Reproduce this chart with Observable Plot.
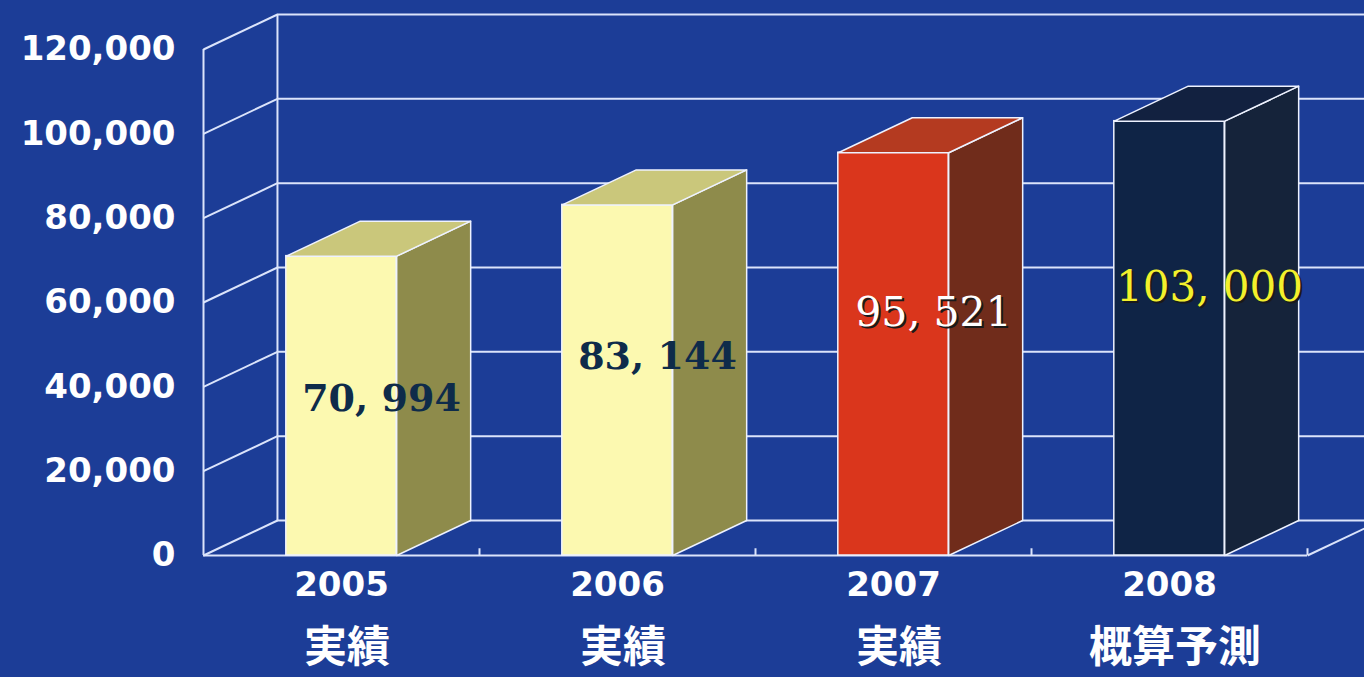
<!DOCTYPE html>
<html><head><meta charset="utf-8">
<script src="https://cdn.jsdelivr.net/npm/d3@7"></script>
<script src="https://cdn.jsdelivr.net/npm/@observablehq/plot@0.6"></script>
<style>
html,body{margin:0;padding:0;background:#1c3d97;overflow:hidden;}
</style></head><body><div id="chart"></div>
<script>
const years = ["2005", "2006", "2007", "2008"];
const kinds = ["実績", "実績", "実績", "概算予測"];
const values = [70994, 83144, 95521, 103000];
const valueLabels = ["70, 994", "83, 144", "95, 521", "103, 000"];
const yTicks = [0, 20000, 40000, 60000, 80000, 100000, 120000];
const frontColors = ["#fcf9b0", "#fcf9b0", "#da361c", "#0f2446"];
const sideColors = ["#8e8b4b", "#8e8b4b", "#702c1b", "#15233a"];
const topColors = ["#cac77b", "#cac77b", "#b43a20", "#122140"];
const labelColors = ["#0e2b4a", "#0e2b4a", "#ffffff", "#f3f02c"];
const labelWeights = ["bold", "bold", "normal", "normal"];
const labelSizes = [38, 38, 41, 42];

// 3D geometry (style constants)
const DX = 0.268;   // depth in x units (one band = 1)
const DY = 8300;    // depth in y units
const BL = 0.3, BR = 0.7;
const grid = "#dbe4fb";
const edge = "#eef2ff";

const bars = values.map((v, i) => ({i, v, year: years[i], kind: kinds[i], label: valueLabels[i]}));

const marks = [];
// back wall grid lines
marks.push(Plot.ruleY(yTicks, {y: d => d + DY, x1: DX, x2: 4 + DX, stroke: grid, strokeWidth: 2}));
// left wall
marks.push(Plot.ruleX([0], {y1: 0, y2: 120000, stroke: grid, strokeWidth: 2}));
marks.push(Plot.ruleX([DX], {y1: DY, y2: 120000 + DY, stroke: grid, strokeWidth: 2}));
marks.push(Plot.link(yTicks, {x1: 0, y1: d => d, x2: DX, y2: d => d + DY, stroke: grid, strokeWidth: 2}));
// floor
marks.push(Plot.ruleY([0], {x1: 0, x2: 4, stroke: grid, strokeWidth: 2}));
marks.push(Plot.link([4], {x1: d => d, y1: 0, x2: d => d + DX, y2: DY, stroke: grid, strokeWidth: 2}));
marks.push(Plot.ruleX([1, 2, 3, 4], {y1: 0, y2: 1600, stroke: grid, strokeWidth: 2}));

// bars
bars.forEach(b => {
  const i = b.i, v = b.v;
  marks.push(Plot.rect([b], {x1: i + BL, x2: i + BR, y1: 0, y2: v, fill: frontColors[i], stroke: edge, strokeWidth: 1.5}));
  const side = [
    {x: i + BR, y: 0}, {x: i + BR + DX, y: DY}, {x: i + BR + DX, y: v + DY}, {x: i + BR, y: v}, {x: i + BR, y: 0}
  ];
  marks.push(Plot.line(side, {x: "x", y: "y", fill: sideColors[i], stroke: edge, strokeWidth: 1.5, strokeLinejoin: "round"}));
  const top = [
    {x: i + BL, y: v}, {x: i + BR, y: v}, {x: i + BR + DX, y: v + DY}, {x: i + BL + DX, y: v + DY}, {x: i + BL, y: v}
  ];
  marks.push(Plot.line(top, {x: "x", y: "y", fill: topColors[i], stroke: edge, strokeWidth: 1.5, strokeLinejoin: "round"}));
});

// value labels (with shadow for light text)
bars.forEach(b => {
  const i = b.i;
  const lx = i + (BL + BR) / 2 + DX / 2;
  const ly = 0.828 * b.v - 21640;
  if (i >= 2) {
    marks.push(Plot.text([b], {x: lx, y: ly, text: "label", dx: 5, dy: 2, fill: "#1a1a1a", fontFamily: "DejaVu Serif", fontSize: labelSizes[i], fontWeight: labelWeights[i]}));
  }
  marks.push(Plot.text([b], {x: lx, y: ly, text: "label", dx: 3, fill: labelColors[i], fontFamily: "DejaVu Serif", fontSize: labelSizes[i], fontWeight: labelWeights[i]}));
});

// category labels
marks.push(Plot.text(bars, {x: d => d.i + 0.5, frameAnchor: "bottom", lineAnchor: "middle", dy: 30, text: "year", fill: "white", fontFamily: "DejaVu Sans", fontWeight: "bold", fontSize: 34}));
marks.push(Plot.text(bars, {x: d => d.i + 0.52, frameAnchor: "bottom", lineAnchor: "middle", dy: 93, text: "kind", fill: "white", fontFamily: "Noto Sans CJK JP", fontWeight: "bold", fontSize: 43}));

const chart = Plot.plot({
  width: 1364,
  height: 677,
  marginLeft: 203,
  marginRight: 57,
  marginTop: 49,
  marginBottom: 122,
  x: {domain: [0, 4], axis: null},
  y: {domain: [0, 120000], ticks: yTicks, tickFormat: d3.format(","), tickSize: 0, tickPadding: 28, label: null},
  style: {background: "#1c3d97", color: "white", fontFamily: "DejaVu Sans", fontWeight: "bold", fontSize: "34px"},
  marks
});
document.getElementById("chart").appendChild(chart);
</script>
</body></html>
